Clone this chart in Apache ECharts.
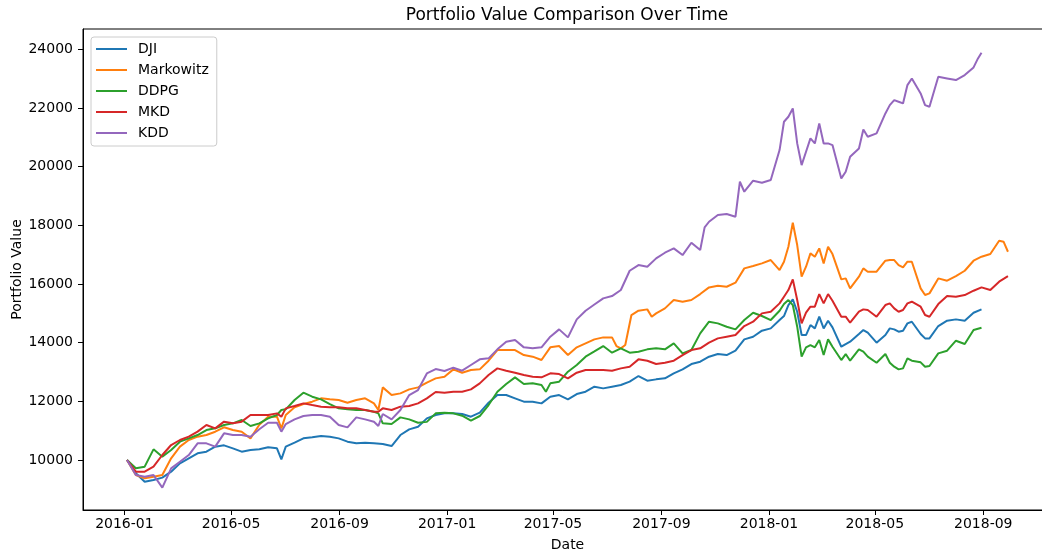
<!DOCTYPE html>
<html>
<head>
<meta charset="utf-8">
<script src="https://cdn.jsdelivr.net/npm/echarts@6/dist/echarts.min.js"></script>
<style>
  html, body { margin: 0; padding: 0; background: #fff; }
  #chart { width: 1042px; height: 553px; }
</style>
</head>
<body>
<div id="chart"></div>
<script>
// ---- data ----
const dates = [
  '2016-01-04','2016-01-14','2016-01-24','2016-02-03','2016-02-13','2016-02-23','2016-03-04','2016-03-14','2016-03-24','2016-04-03',
  '2016-04-13','2016-04-23','2016-05-03','2016-05-13','2016-05-23','2016-06-02','2016-06-12','2016-06-22','2016-06-27','2016-07-02',
  '2016-07-12','2016-07-22','2016-08-01','2016-08-11','2016-08-21','2016-08-31','2016-09-10','2016-09-20','2016-09-30','2016-10-10',
  '2016-10-15','2016-10-20','2016-10-30','2016-11-09','2016-11-19','2016-11-29','2016-12-09','2016-12-19','2016-12-29','2017-01-08',
  '2017-01-18','2017-01-28','2017-02-07','2017-02-17','2017-02-27','2017-03-09','2017-03-19','2017-03-29','2017-04-08','2017-04-18',
  '2017-04-23','2017-04-28','2017-05-08','2017-05-18','2017-05-28','2017-06-07','2017-06-17','2017-06-27','2017-07-07','2017-07-12',
  '2017-07-17','2017-07-22','2017-07-24','2017-07-27','2017-07-29','2017-08-06','2017-08-16','2017-08-21','2017-08-26','2017-09-05',
  '2017-09-15','2017-09-25','2017-10-05','2017-10-15','2017-10-20','2017-10-25','2017-11-04','2017-11-14','2017-11-24','2017-11-29',
  '2017-12-04','2017-12-14','2017-12-24','2018-01-03','2018-01-13','2018-01-18','2018-01-23','2018-01-28','2018-02-02','2018-02-07',
  '2018-02-12','2018-02-17','2018-02-22','2018-02-27','2018-03-04','2018-03-09','2018-03-14','2018-03-24','2018-03-29','2018-04-03',
  '2018-04-13','2018-04-18','2018-04-23','2018-05-03','2018-05-13','2018-05-18','2018-05-23','2018-05-28','2018-06-02','2018-06-07',
  '2018-06-12','2018-06-22','2018-06-27','2018-07-02','2018-07-12','2018-07-22','2018-08-01','2018-08-11','2018-08-21','2018-08-26',
  '2018-08-30','2018-09-09','2018-09-19','2018-09-24','2018-09-29'
];

const dji = [
  10000,9546,9261,9318,9400,9602,9886,10057,10228,10284,
  10455,10500,10398,10284,10340,10364,10432,10398,10023,10454,
  10591,10738,10772,10818,10795,10738,10625,10568,10591,10568,
  null,10545,10477,10852,11045,11136,11420,11534,11590,11590,
  11568,11477,11613,11954,12215,12215,12102,11988,11988,11931,
  null,12158,12215,12068,12249,12329,12499,12442,12499,null,
  12556,null,null,12670,null,12863,12704,null,12749,12783,
  12954,13090,13272,13351,null,13522,13612,13578,13726,null,
  14112,14203,14408,14487,14771,14908,15282,15475,15055,14260,
  14260,14601,14487,14885,14487,14749,14521,13862,13953,14033,
  14294,14430,14340,13999,14260,14487,14453,14374,14408,14658,
  14714,14294,14146,14146,14567,14749,14794,14749,15021,null,
  15135,null,null,null,null
];

const markowitz = [
  10000,9489,9375,9432,9489,10057,10455,10682,10795,10852,
  10965,11114,11023,10965,10739,11200,11477,11477,11079,11534,
  11795,11908,11988,12102,12068,12045,11954,12045,12102,11931,
  11704,12476,12215,12272,12408,12476,12640,12783,12840,13090,
  12976,13067,13090,13385,13749,13749,13749,13578,13522,13408,
  null,13840,13885,13578,13840,13976,14112,14180,14180,13885,
  13806,13919,13919,null,14942,15089,15135,14885,14998,15169,
  15453,15396,15453,15657,null,15884,15941,15907,16044,null,
  16532,16612,16702,16816,16475,16759,17270,18088,17327,16248,
  16589,17043,16930,17214,16702,17270,17020,16157,16191,15850,
  16248,16532,16418,16418,16793,16816,16816,16646,16566,16759,
  16759,15850,15623,15680,16191,16112,16271,16452,16793,null,
  16930,17020,17475,17441,17100
];

const ddpg = [
  10000,9716,9773,10364,10114,10341,10625,10739,10852,11022,
  11080,11193,11250,11363,11159,11250,11420,11534,11704,11727,
  12045,12295,12158,12068,11908,11761,11727,11704,11704,11647,
  11590,11250,11227,11454,11386,11272,11300,11590,11613,11590,
  11511,11340,11500,11874,12329,12590,12817,12590,12613,12556,
  12329,12613,12670,13010,13238,13522,13700,13885,13658,null,
  13806,null,null,13658,null,13692,13772,null,13806,13772,
  13976,13635,13749,14317,null,14714,14658,14544,14453,null,
  14771,15021,14908,14771,15089,15316,15453,15282,14544,13522,
  13840,13919,13840,14090,13578,14112,13862,13408,13612,13385,
  13772,13692,13522,13317,13612,13317,13181,13090,13124,13465,
  13385,13329,13181,13203,13635,13726,14067,13953,14430,null,
  14510,null,null,null,null
];

const mkd = [
  10000,9602,9602,9773,10171,10511,10682,10795,10966,11193,
  11080,11307,11250,11307,11534,11534,11534,11590,11477,11761,
  11840,11931,11874,11818,11795,11795,11761,11761,11704,11647,
  11647,11761,11704,11818,11840,11931,12100,12317,12295,12329,
  12329,12408,12613,12897,13124,13044,12976,12897,12840,12817,
  null,12954,12931,12783,12976,13067,13067,13067,13044,null,
  13124,null,null,13181,null,13431,13385,null,13272,13317,
  13385,13578,13749,13806,null,13999,14146,14203,14260,null,
  14567,14714,14998,15055,15339,15566,15794,16157,15453,14658,
  15021,15226,15226,15657,15339,15657,15430,14885,14885,14680,
  15055,15135,15112,14885,15282,15339,15169,15055,15112,15339,
  15396,15226,14942,14885,15316,15589,15566,15623,15771,null,
  15884,15794,16078,null,16271
];

const kdd = [
  10000,9489,9432,9489,9060,9716,9943,10170,10568,10568,
  10455,10909,10852,10852,10795,11050,11272,11272,10966,11227,
  11386,11500,11534,11534,11477,11193,11113,11454,11386,11306,
  11159,11568,11386,11704,12215,12386,12950,13101,13033,13147,
  13044,13238,13431,13465,13772,14033,14090,13840,13806,13840,
  null,14203,14453,14180,14794,15089,15300,15510,15589,null,
  15794,null,null,16452,null,16646,16589,null,16873,17066,
  17214,16986,17407,17157,17929,18122,18350,18384,18293,19486,
  19145,19520,19452,19543,20565,21530,21700,21985,20792,20054,
  20508,20962,20792,21473,20792,20792,20735,19599,19826,20338,
  20622,21269,21019,21133,21814,22098,22268,22212,22155,22780,
  23007,22496,22098,22042,23064,23007,22950,23121,23382,23689,
  23882,null,null,null,null
];

const seriesNames = ['DJI', 'Markowitz', 'DDPG', 'MKD', 'KDD'];
const seriesValues = [dji, markowitz, ddpg, mkd, kdd];
const colors = ['#1f77b4', '#ff7f0e', '#2ca02c', '#d62728', '#9467bd'];

const xTickLabels = ['2016-01','2016-05','2016-09','2017-01','2017-05','2017-09','2018-01','2018-05','2018-09'];
const yTicks = [10000, 12000, 14000, 16000, 18000, 20000, 22000, 24000];

// ---- chart ----
const FONT = 'DejaVu Sans';
const ts = dates.map(d => Date.parse(d));
const t0 = ts[0], t1 = ts[ts.length - 1];
const xMin = t0 - 0.05 * (t1 - t0);
const xMax = t1 + 0.05 * (t1 - t0);
const xTickValues = xTickLabels.map(s => Date.parse(s + '-01'));
const pad2 = n => (n < 10 ? '0' : '') + n;
const fmtDate = v => { const d = new Date(v); return d.getUTCFullYear() + '-' + pad2(d.getUTCMonth() + 1); };

const chart = echarts.init(document.getElementById('chart'), null, { renderer: 'canvas' });
chart.setOption({
  animation: false,
  backgroundColor: '#ffffff',
  color: colors,
  textStyle: { fontFamily: FONT },
  title: {
    text: 'Portfolio Value Comparison Over Time',
    left: 567, top: 7, textAlign: 'center', padding: 0,
    textStyle: { fontFamily: FONT, fontSize: 17, fontWeight: 'normal', color: '#000' }
  },
  legend: {
    orient: 'vertical', left: 91, top: 37,
    data: seriesNames,
    icon: 'rect', itemWidth: 31, itemHeight: 2, itemGap: 5,
    padding: [4, 8, 5, 5],
    backgroundColor: 'rgba(255,255,255,0.8)',
    borderColor: '#cccccc', borderWidth: 1, borderRadius: 3,
    textStyle: { fontFamily: FONT, fontSize: 14, color: '#000', lineHeight: 16, padding: [0, 0, 0, 6] }
  },
  grid: {
    left: 83, top: 29, width: 969, height: 481,
    outerBoundsMode: 'none', containLabel: false,
    show: true, borderColor: '#000', borderWidth: 1, backgroundColor: 'transparent'
  },
  xAxis: {
    type: 'value', min: xMin, max: xMax,
    name: 'Date', nameLocation: 'middle', nameGap: 28, nameMoveOverlap: false,
    nameTextStyle: { fontFamily: FONT, fontSize: 14, color: '#000' },
    axisLine: { show: true, onZero: false, lineStyle: { color: '#000', width: 1 } },
    axisTick: { show: true, length: 5, customValues: xTickValues, lineStyle: { color: '#000', width: 1 } },
    axisLabel: { customValues: xTickValues, formatter: fmtDate, margin: 7, fontFamily: FONT, fontSize: 14, color: '#000' },
    splitLine: { show: false }
  },
  yAxis: {
    type: 'value', min: 8296, max: 24692,
    name: 'Portfolio Value', nameLocation: 'middle', nameGap: 59, nameMoveOverlap: false,
    nameTextStyle: { fontFamily: FONT, fontSize: 14, color: '#000' },
    axisLine: { show: true, onZero: false, lineStyle: { color: '#000', width: 1 } },
    axisTick: { show: true, length: 5, customValues: yTicks, lineStyle: { color: '#000', width: 1 } },
    axisLabel: { customValues: yTicks, formatter: v => String(v), margin: 10, fontFamily: FONT, fontSize: 14, color: '#000' },
    splitLine: { show: false }
  },
  series: seriesNames.map((name, k) => ({
    name: name,
    type: 'line',
    showSymbol: false,
    symbol: 'none',
    lineStyle: { width: 2, color: colors[k] },
    itemStyle: { color: colors[k] },
    data: ts.map((t, i) => [t, seriesValues[k][i]]).filter(p => p[1] !== null)
  }))
});
</script>
</body>
</html>
